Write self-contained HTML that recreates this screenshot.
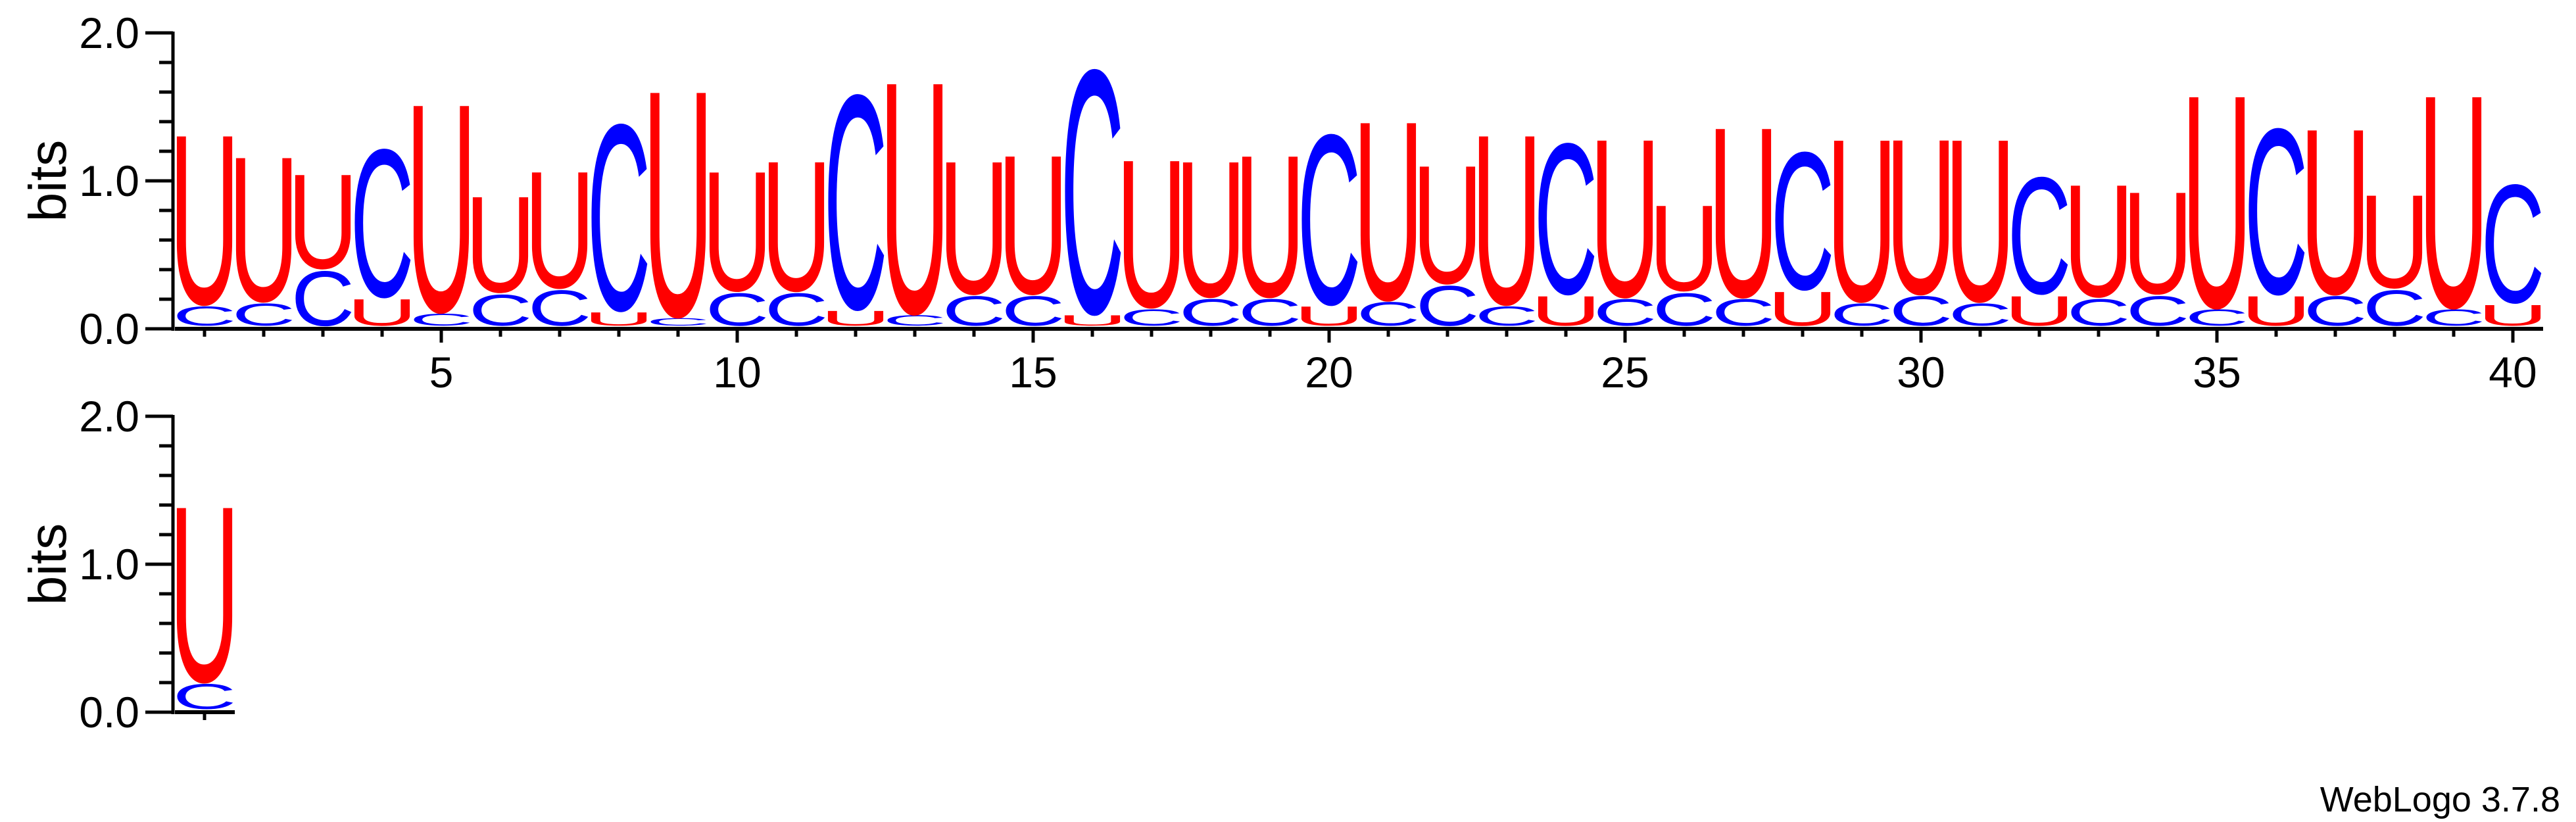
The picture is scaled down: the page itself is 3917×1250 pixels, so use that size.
<!DOCTYPE html>
<html><head><meta charset="utf-8"><style>
html,body{margin:0;padding:0;background:#fff;}
svg{display:block;}
text{font-family:"Liberation Sans",Arial,sans-serif;}
</style></head><body>
<svg id="chart" width="3917" height="1250" viewBox="0 0 3917 1250" xmlns="http://www.w3.org/2000/svg">
<g id="panel1"></g>
<g id="panel2"></g>
<text x="3893" y="1234" font-size="54" text-anchor="end">WebLogo 3.7.8</text>
</svg>
<script>
// Data: row 1 (positions 1-40)
const topLetters1 = ["U","U","U","C","U","U","U","C","U","U","U","C","U","U","U","C","U","U","U","C","U","U","U","C","U","U","U","C","U","U","U","C","U","U","U","C","U","U","U","C"];
const totalBits1 = [1.32,1.17,1.05,1.22,1.53,0.90,1.07,1.39,1.62,1.07,1.14,1.59,1.68,1.14,1.18,1.76,1.15,1.14,1.18,1.32,1.41,1.11,1.32,1.26,1.29,0.84,1.37,1.20,1.29,1.29,1.29,1.03,0.98,0.93,1.59,1.36,1.36,0.91,1.59,0.98];
const botLetters1 = ["C","C","C","U","C","C","C","U","C","C","C","U","C","C","C","U","C","C","C","U","C","C","C","U","C","C","C","U","C","C","C","U","C","C","C","U","C","C","C","U"];
const botBits1 = [0.13,0.15,0.37,0.18,0.08,0.21,0.24,0.09,0.05,0.22,0.22,0.10,0.07,0.20,0.20,0.07,0.11,0.18,0.18,0.13,0.16,0.27,0.13,0.20,0.18,0.22,0.18,0.23,0.15,0.20,0.15,0.20,0.18,0.20,0.11,0.20,0.20,0.24,0.11,0.14];
// Data: row 2 (position 1)
const topLetters2 = ["U"];
const totalBits2 = [1.40];
const botLetters2 = ["C"];
const botBits2 = [0.17];
const yTickLabels = ["0.0","1.0","2.0"];

const NS = "http://www.w3.org/2000/svg";
const COLORS = {U:"#ff0000", C:"#0000ff"};
const INK = {U:56, C:62};
const AXIS_X = 263, COL0 = 311, COLW = 90, LETW = 83, PX_PER_BIT = 225;

function mk(tag, attrs, parent){
  const e = document.createElementNS(NS, tag);
  for (const k in attrs) e.setAttribute(k, attrs[k]);
  parent.appendChild(e);
  return e;
}
function letter(parent, ch, cx, yTop, yBot){
  const h = yBot - yTop;
  if (h <= 1) return;
  const t = mk("text", {x:0, y:0, "font-size":100, "text-anchor":"middle", fill:COLORS[ch],
    transform:`translate(${cx},${yBot}) scale(${LETW/INK[ch]},${h/70})`}, parent);
  
  
  t.textContent = ch;
}
function drawPanel(g, y0, tops, totals, bots, botH, xEnd, showX){
  const yOf = b => y0 - b * PX_PER_BIT;
  const ya = mk("line", {x1:AXIS_X, y1:yOf(2)-2, x2:AXIS_X, y2:y0+3, stroke:"#000", "stroke-width":5}, g);
  
  
  for (let i = 0; i <= 10; i++){
    const b = i * 0.2, major = i % 5 === 0;
    const tk = mk("line", {x1:AXIS_X-(major?42:21), y1:yOf(b), x2:AXIS_X, y2:yOf(b), stroke:"#000", "stroke-width":5}, g);
    
    
  }
  yTickLabels.forEach((lab, i) => {
    const t = mk("text", {x:212, y:yOf(i)+23, "font-size":66, "text-anchor":"end"}, g);
    
    
    t.textContent = lab;
  });
  const yl = mk("text", {x:0, y:0, "font-size":80, "text-anchor":"middle", transform:`translate(100,${yOf(1)}) rotate(-90)`}, g);
  
  
  yl.textContent = "bits";
  const xa = mk("line", {x1:AXIS_X+3, y1:y0, x2:xEnd, y2:y0, stroke:"#000", "stroke-width":6}, g);
  
  
  tops.forEach((ch, i) => {
    const cx = COL0 + i * COLW, pos = i + 1, major = pos % 5 === 0;
    const tk = mk("line", {x1:cx, y1:y0, x2:cx, y2:y0+(major?21:12), stroke:"#000", "stroke-width":5}, g);
    
    
    if (showX && major){
      const t = mk("text", {x:cx, y:y0+89, "font-size":66, "text-anchor":"middle"}, g);
      
      
      t.textContent = String(pos);
    }
    const base = y0 - 5;
    const bTop = base - botH[i] * PX_PER_BIT;
    letter(g, bots[i], cx, bTop, base);
    letter(g, ch, cx, yOf(totals[i]), bTop - 4);
  });
}
drawPanel(document.getElementById("panel1"), 500, topLetters1, totalBits1, botLetters1, botBits1, 3867, true);
drawPanel(document.getElementById("panel2"), 1083, topLetters2, totalBits2, botLetters2, botBits2, 357, false);
</script>
</body></html>
